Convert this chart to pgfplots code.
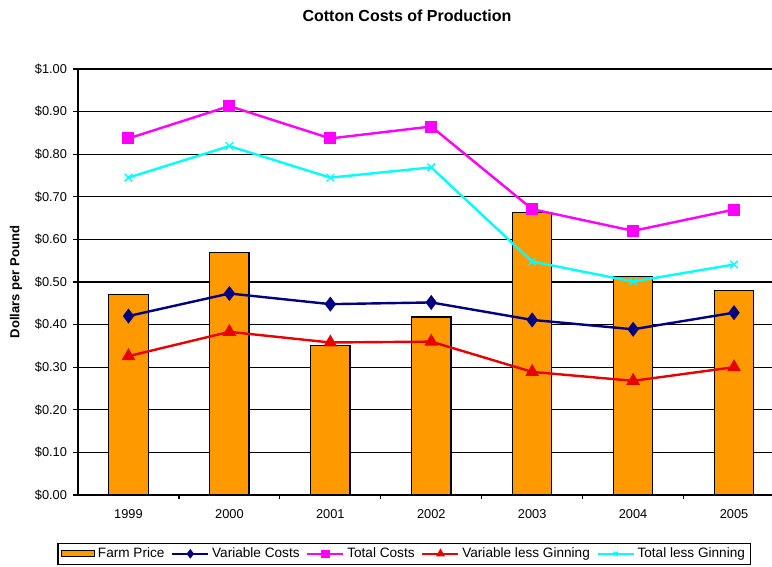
\documentclass[border=0pt]{standalone}
\usepackage{pgfplots}
\pgfplotsset{compat=1.18}
\usepackage{fontspec}
\setmainfont{Liberation Sans}
\definecolor{barorange}{HTML}{FF9900}
\definecolor{navyc}{HTML}{000080}
\definecolor{magc}{HTML}{FF00FF}
\definecolor{redc}{HTML}{E80000}
\definecolor{cyanc}{HTML}{00FFFF}
\pgfplotsset{
  mylinelegend/.style={legend image code/.code={
    \draw[mark repeat=2,mark phase=2,mark size=2.2pt] plot coordinates {(0pt,0pt) (13.5pt,0pt) (27pt,0pt)};}},
  mybarlegend/.style={legend image code/.code={
    \draw[##1, line width=0.9pt] (0pt,-2pt) rectangle (25pt,2.5pt);}},
}
\begin{document}
\begin{tikzpicture}
\path[use as bounding box] (-58.5pt,-54pt) rectangle (520.5pt,371.25pt);
\begin{axis}[
  scale only axis, width=520.5pt, height=319.5pt,
  xmin=-0.5, xmax=6.376, ymin=0, ymax=1,
  axis x line*=bottom, axis y line*=left,
  axis line style={black, line width=1.1pt},
  xtick={0,1,2,3,4,5,6},
  xticklabels={1999,2000,2001,2002,2003,2004,2005},
  major x tick style={draw=none},
  minor xtick={0.5,1.5,2.5,3.5,4.5,5.5},
  minor x tick style={black, line width=0.9pt},
  minor tick length=3pt,
  ytick={0,0.1,0.2,0.3,0.4,0.5,0.6,0.7,0.8,0.9,1.0},
  yticklabel={\$\pgfmathprintnumber[fixed,fixed zerofill,precision=2]{\tick}},
  /pgf/number format/assume math mode=true,
  tick align=outside, major tick length=3.75pt,
  ytick style={black, line width=0.9pt},
  ymajorgrids, grid style={black, line width=0.9pt},
  tick label style={font=\fontsize{9.6}{11}\selectfont},
  yticklabel style={xshift=-1pt},
  xticklabel style={yshift=-4pt},
  ylabel={Dollars per Pound},
  every axis y label/.append style={at={(axis description cs:-0.0893,0.5)}, anchor=center, font=\bfseries\fontsize{9.8}{11}\selectfont},
  title={Cotton Costs of Production},
  title style={at={(axis description cs:0.474,1.106)}, anchor=center, yshift=0pt, font=\bfseries\fontsize{12}{14}\selectfont},
  legend columns=5,
  legend style={at={(axis description cs:0.470,-0.138)}, anchor=center, draw=black, line width=1pt,
    font=\fontsize{10.2}{11}\selectfont, inner xsep=2pt, inner ysep=1.5pt,
    /tikz/every odd column/.append style={column sep=0pt},
    /tikz/every even column/.append style={column sep=3pt}},
  legend cell align=left,
]
\addplot[ybar, bar width=0.39, fill=barorange, draw=black, line width=0.9pt, mybarlegend]
  coordinates {(0,0.47) (1,0.57) (2,0.35) (3,0.418) (4,0.663) (5,0.512) (6,0.48)};
\addlegendentry{Farm Price}
\addplot[navyc, line width=1.8pt, mark=diamond*, mark size=4.2pt, mark options={solid, fill=navyc}, mylinelegend]
  coordinates {(0,0.42) (1,0.473) (2,0.448) (3,0.452) (4,0.411) (5,0.389) (6,0.428)};
\addlegendentry{Variable Costs}
\addplot[magc, line width=1.8pt, mark=square*, mark size=3.6pt, mark options={solid, fill=magc}, mylinelegend]
  coordinates {(0,0.837) (1,0.913) (2,0.837) (3,0.865) (4,0.671) (5,0.620) (6,0.670)};
\addlegendentry{Total Costs}
\addplot[redc, line width=1.8pt, mark=triangle*, mark size=4.2pt, mark options={solid, fill=redc}, mylinelegend]
  coordinates {(0,0.326) (1,0.383) (2,0.358) (3,0.360) (4,0.289) (5,0.268) (6,0.300)};
\addlegendentry{Variable less Ginning}
\addplot[cyanc, line width=1.8pt, mark=x, mark size=4pt, mark options={solid, line width=1pt}, mylinelegend]
  coordinates {(0,0.745) (1,0.819) (2,0.745) (3,0.769) (4,0.548) (5,0.501) (6,0.541)};
\addlegendentry{Total less Ginning}
\end{axis}
\end{tikzpicture}
\end{document}
